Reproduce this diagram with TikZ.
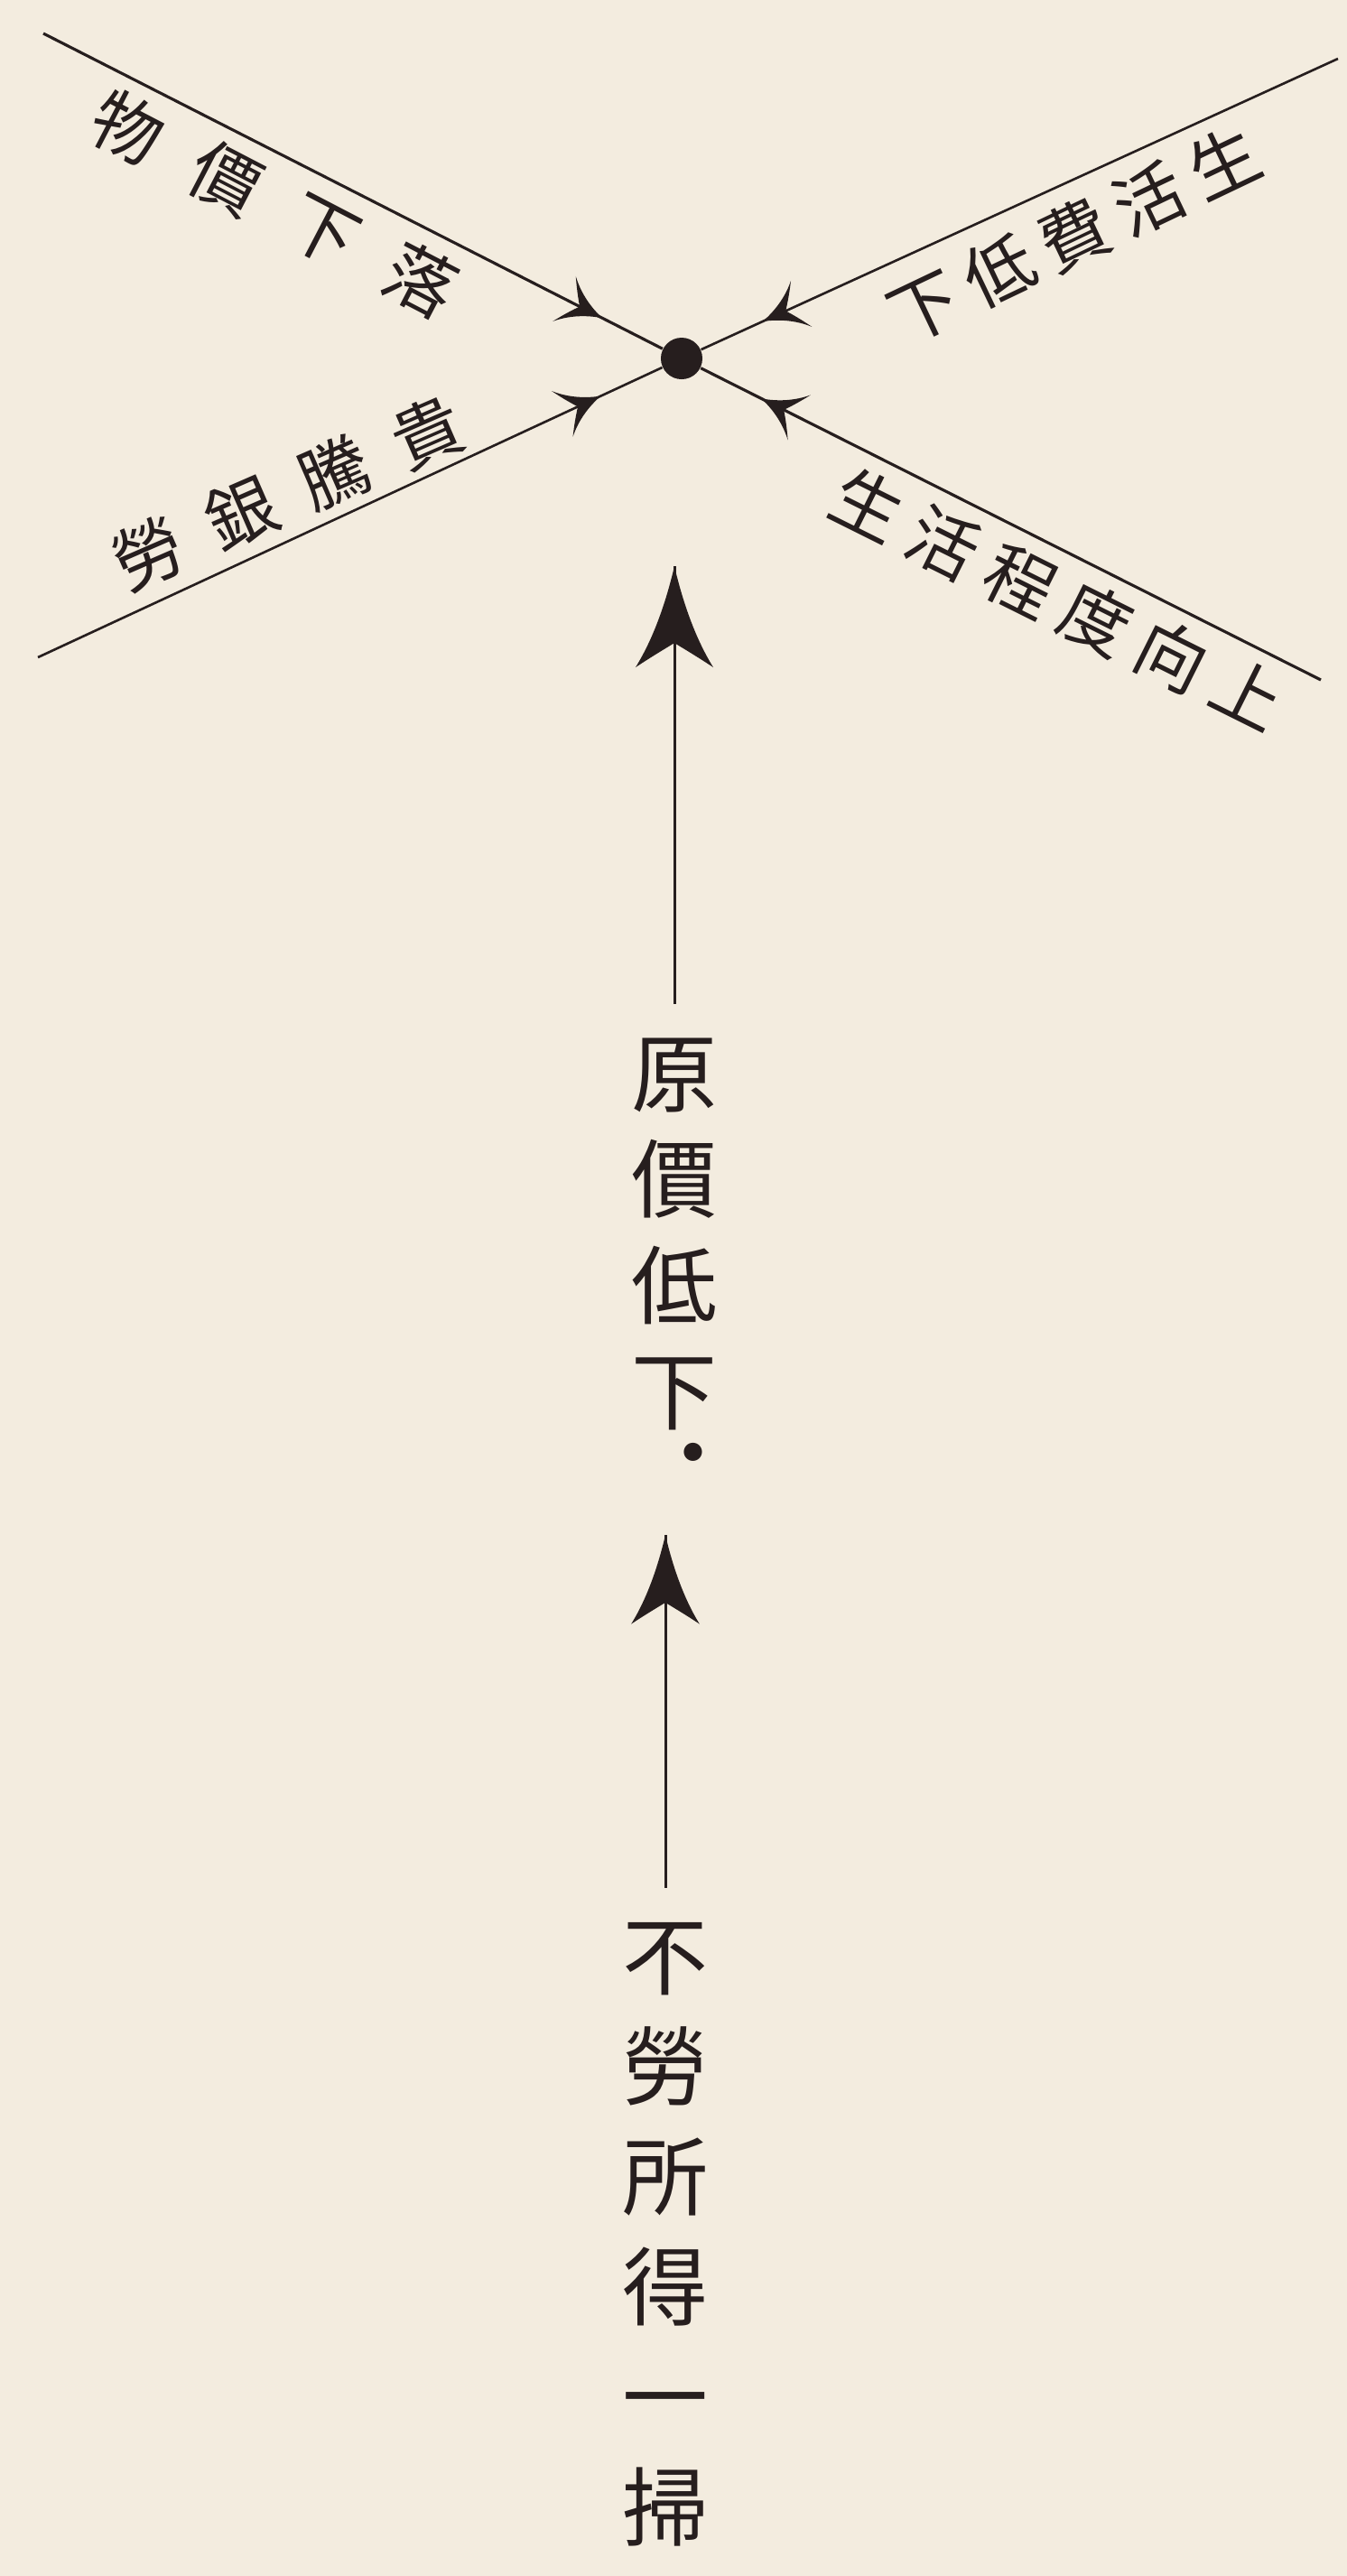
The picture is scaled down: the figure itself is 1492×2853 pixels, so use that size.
\documentclass[tikz,border=0pt]{standalone}
\usepackage{fontspec}
\newfontfamily\cjk{Noto Sans CJK JP}
\TeXXeTstate=1
\usetikzlibrary{decorations.markings,calc}
\definecolor{paper}{RGB}{243,236,223}
\definecolor{ink}{RGB}{38,30,30}
% small barbed head for the crossing lines (tip at origin, pointing along +x)
\newcommand\xhead{\fill[ink] (0,0) .. controls (-0.1cm,0.03cm) and (-0.3cm,0.1cm) .. (-0.47cm,0.28cm)
  .. controls (-0.36cm,0.1cm) and (-0.3cm,0.03cm) .. (-0.28cm,0cm)
  .. controls (-0.3cm,-0.03cm) and (-0.36cm,-0.1cm) .. (-0.47cm,-0.28cm)
  .. controls (-0.3cm,-0.1cm) and (-0.1cm,-0.03cm) .. (0,0) -- cycle;}
% large barbed head for the vertical arrows
\newcommand\vhead[1]{\fill[ink,scale=#1] (0,0) .. controls (-0.3cm,0.07cm) and (-0.75cm,0.2cm) .. (-1.12cm,0.43cm)
  .. controls (-1.0cm,0.25cm) and (-0.9cm,0.08cm) .. (-0.85cm,0cm)
  .. controls (-0.9cm,-0.08cm) and (-1.0cm,-0.25cm) .. (-1.12cm,-0.43cm)
  .. controls (-0.75cm,-0.2cm) and (-0.3cm,-0.07cm) .. (0,0) -- cycle;}
\begin{document}
\begin{tikzpicture}[x=0.01cm,y=-0.01cm,
  dotnode/.style={circle,fill=ink,minimum size=0.46cm,inner sep=0pt},
  xlineA/.style={draw=ink,line width=0.9pt,postaction={decorate},
    decoration={markings,mark=at position -0.75cm with {\xhead}}},
  xlineB/.style={draw=ink,line width=0.75pt,postaction={decorate},
    decoration={markings,mark=at position -0.75cm with {\xhead}}},
  vlineA/.style={draw=ink,line width=0.85pt,shorten <=0.38cm,postaction={decorate},
    decoration={markings,mark=at position 1 with {\vhead{1}}}},
  vlineB/.style={draw=ink,line width=0.85pt,shorten <=0.38cm,postaction={decorate},
    decoration={markings,mark=at position 1 with {\vhead{0.88}}}},
  diag/.style={text=ink,font=\cjk\fontsize{22}{22}\selectfont,inner sep=0pt},
  vertA/.style={text=ink,font=\cjk\fontsize{27}{33.3}\selectfont,align=center,inner sep=0pt},
  vertB/.style={text=ink,font=\cjk\fontsize{27}{34.7}\selectfont,align=center,inner sep=0pt}
]
\fill[paper] (0,0) rectangle (1492,2853);
\useasboundingbox (0,0) rectangle (1492,2853);

% central point and crossing lines
\node[dotnode] (dot) at (755,397) {};
\coordinate (A1) at (48,37);
\coordinate (B1) at (1463,753);
\coordinate (A2) at (42,728);
\coordinate (B2) at (1482,65);
\draw[xlineA] (A1) -- (dot);
\draw[xlineA] (B1) -- (dot);
\draw[xlineB] (A2) -- (dot);
\draw[xlineB] (B2) -- (dot);

% labels along the crossing lines
\node[diag,rotate=-27.5] (ul) at (304,226)
  {物\hspace{0.445cm}價\hspace{0.445cm}下\hspace{0.445cm}落};
\node[diag,rotate=23.5] (ll) at (319,546)
  {勞\hspace{0.35cm}銀\hspace{0.35cm}騰\hspace{0.35cm}貴};
\node[diag,rotate=25.5] (ur) at (1190,260)
  {\beginR 生\hspace{0.146cm}活\hspace{0.146cm}費\hspace{0.146cm}低\hspace{0.146cm}下\endR};
\node[diag,rotate=-26.5] (lr) at (1172,664)
  {生\hspace{0.167cm}活\hspace{0.167cm}程\hspace{0.167cm}度\hspace{0.167cm}向\hspace{0.167cm}上};

% vertical chain
\node[vertA] (genka) at (747,1367)
  {原\\價\\低\\下\rlap{\smash{\raisebox{-0.72em}{\hspace{-0.78em}・}}}};
\node[vertB] (fusho) at (737,2475) {不\\勞\\所\\得\\一\\掃};
\coordinate (tip1) at (747,627);
\coordinate (tip2) at (737,1700);
\draw[vlineA] (genka.north) -- (tip1);
\draw[vlineB] (fusho.north) -- (tip2);
\end{tikzpicture}
\end{document}
